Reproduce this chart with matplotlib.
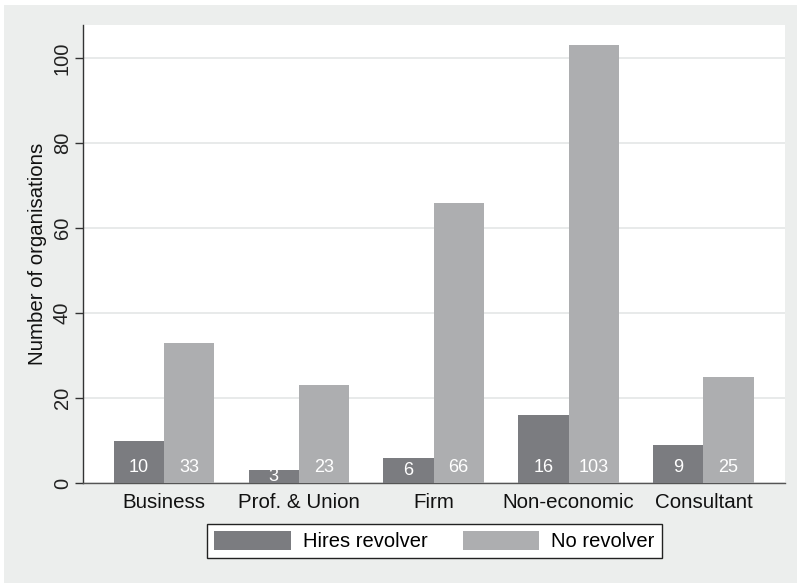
import matplotlib
matplotlib.use("Agg")
import matplotlib.pyplot as plt
import numpy as np
from matplotlib.patches import Rectangle

plt.rcParams['font.family'] = ['Liberation Sans', 'DejaVu Sans']

# organisation types and counts per group
categories = ['Business', 'Prof. & Union', 'Firm', 'Non-economic', 'Consultant']
hires_revolver = [10, 3, 6, 16, 9]
no_revolver = [33, 23, 66, 103, 25]
series_names = ['Hires revolver', 'No revolver']

dark = '#7b7c80'
light = '#adaeb0'
bg = '#eceeed'

fig = plt.figure(figsize=(7.97, 5.83), dpi=100, facecolor='white')
# grey outer region (thin white strip top/left)
fig.patches.append(Rectangle((4 / 797, 0), 1, 1 - 5 / 583, transform=fig.transFigure,
                             facecolor=bg, edgecolor='none', zorder=-10))

ax = fig.add_axes([83 / 797, 100 / 583, 702 / 797, 458 / 583])
ax.set_facecolor('white')

x = np.arange(len(categories))
w = 0.372
b1 = ax.bar(x - w / 2, hires_revolver, width=w, color=dark, label=series_names[0], zorder=3)
b2 = ax.bar(x + w / 2, no_revolver, width=w, color=light, label=series_names[1], zorder=3)

# white count labels near the bar bases (kept inside short bars)
for bars, vals in ((b1, hires_revolver), (b2, no_revolver)):
    for rect, v in zip(bars, vals):
        ax.text(rect.get_x() + rect.get_width() / 2, min(3.6, v * 0.5), str(v),
                ha='center', va='center', color='white', fontsize=13, zorder=4)

ax.set_xlim(-0.6, 4.605)
ax.set_ylim(0, 107.8)
ax.set_yticks([0, 20, 40, 60, 80, 100])
ax.set_xticks(x)
ax.set_xticklabels(categories, fontsize=14.8)
ax.tick_params(axis='x', length=0, pad=7, colors='#222222')
ax.tick_params(axis='y', length=6, width=1, direction='out', labelsize=14.5, pad=2, colors='#333333')
for lab in ax.get_yticklabels():
    lab.set_rotation(90)
    lab.set_va('center')
    lab.set_color('#222222')
for lab in ax.get_xticklabels():
    lab.set_color('#111111')

ax.yaxis.grid(True, color='#e4e6e6', linewidth=1.2, zorder=0)
ax.set_axisbelow(True)
for s in ('top', 'right'):
    ax.spines[s].set_visible(False)
ax.spines['left'].set_color('#333333')
ax.spines['bottom'].set_color('#555555')
ax.spines['left'].set_linewidth(1)
ax.spines['bottom'].set_linewidth(1)

ax.set_ylabel('Number of organisations', fontsize=14.7, color='#111111', labelpad=4)

leg = fig.legend(handles=[b1, b2], loc='center', bbox_to_anchor=(434.5 / 797, 42 / 583),
                 ncol=2, fontsize=14.5, frameon=True, fancybox=False, handlelength=3.8,
                 handleheight=1.05, columnspacing=1.75, handletextpad=0.6, borderpad=0.35,
                 borderaxespad=0)
leg.get_frame().set_edgecolor('#222222')
leg.get_frame().set_linewidth(1)
leg.get_frame().set_facecolor('white')
leg.get_frame().set_alpha(1)

fig.savefig('out.png', dpi=100, facecolor=fig.get_facecolor())
